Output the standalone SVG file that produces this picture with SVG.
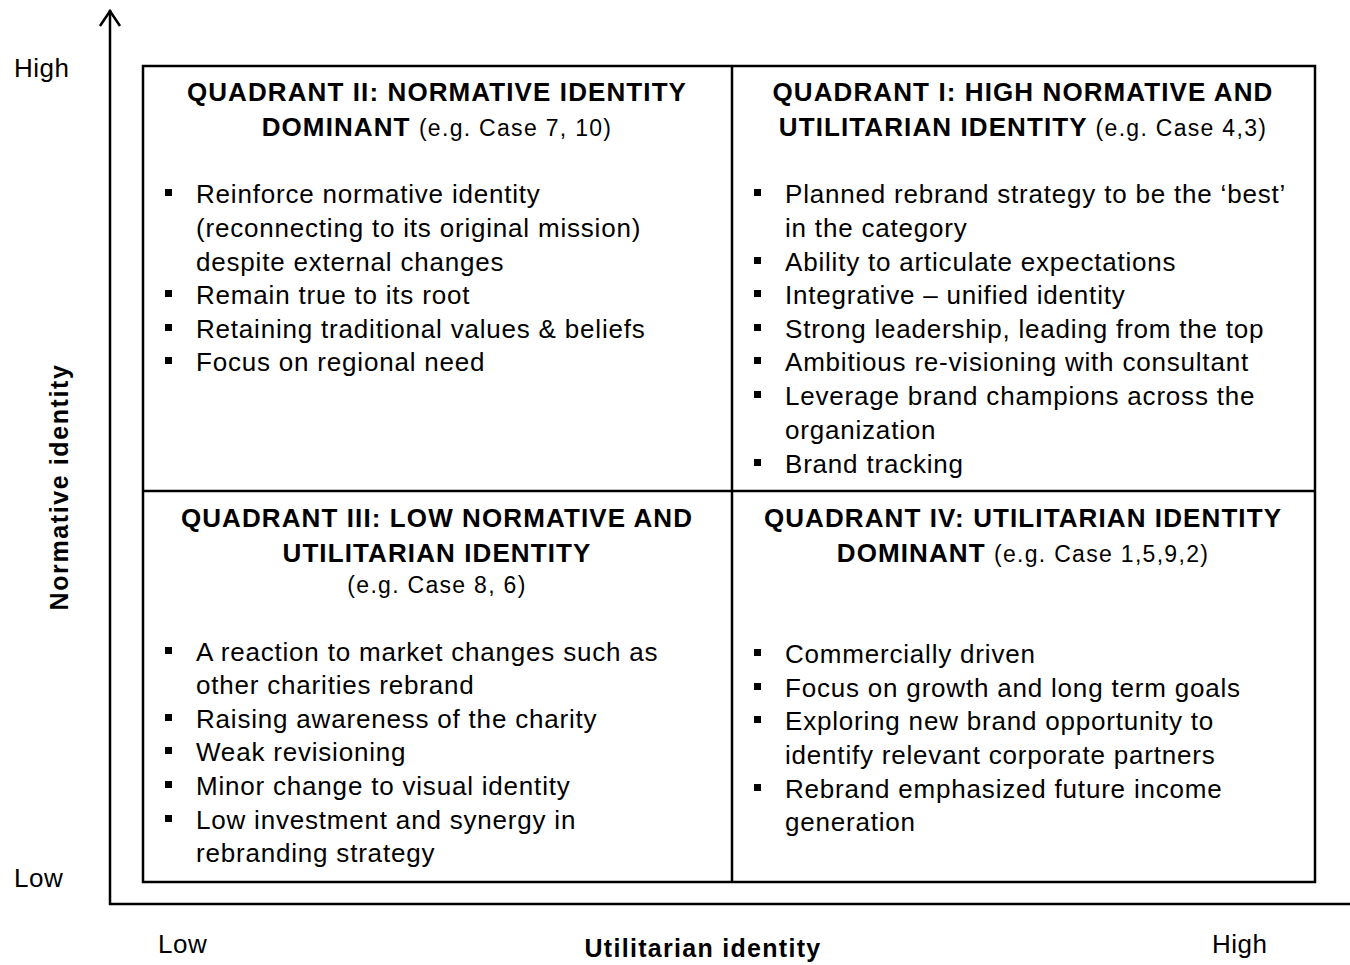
<svg xmlns="http://www.w3.org/2000/svg" width="1350" height="965" viewBox="0 0 1350 965">
<style>
text{font-family:"Liberation Sans",Arial,sans-serif;fill:#000}
.t{font-size:26px;font-weight:bold;text-anchor:middle;letter-spacing:1.1px}
.e{font-size:23px;font-weight:normal;letter-spacing:1.3px}
.b{font-size:26px;letter-spacing:0.8px}
.ax{font-size:26px;letter-spacing:0.5px}
.axb{font-size:25px;font-weight:bold;letter-spacing:1.3px}
.sq{fill:#000}
</style>
<rect width="1350" height="965" fill="#fff"/>
<g id="axes" stroke="#000" stroke-width="2.5" fill="none">
<line x1="110" y1="10" x2="110" y2="905"/>
<polyline points="100,26 110,11 120,26"/>
<line x1="109" y1="904" x2="1350" y2="904"/>
</g>
<g id="grid" stroke="#000" stroke-width="2.5" fill="none">
<rect x="143" y="66" width="1172" height="816"/>
<line x1="732" y1="66" x2="732" y2="882"/>
<line x1="143" y1="491" x2="1315" y2="491"/>
</g>
<g id="axis-labels">
<text class="ax" x="14" y="77">High</text>
<text class="ax" x="14" y="887">Low</text>
<text class="ax" x="158" y="953">Low</text>
<text class="ax" x="1212" y="953">High</text>
<text class="axb" x="703" y="957" text-anchor="middle">Utilitarian identity</text>
<text class="axb" style="letter-spacing:1.6px" transform="translate(68,487) rotate(-90)" text-anchor="middle">Normative identity</text>
</g>
<g id="q2">
<text class="t" x="437" y="101">QUADRANT II: NORMATIVE IDENTITY</text>
<text class="t" x="437" y="136">DOMINANT <tspan class="e">(e.g. Case 7, 10)</tspan></text>
<rect class="sq" x="165" y="189" width="7" height="7"/>
<text class="b" x="196" y="203">Reinforce normative identity</text>
<text class="b" x="196" y="237">(reconnecting to its original mission)</text>
<text class="b" x="196" y="271">despite external changes</text>
<rect class="sq" x="165" y="290" width="7" height="7"/>
<text class="b" x="196" y="304">Remain true to its root</text>
<rect class="sq" x="165" y="324" width="7" height="7"/>
<text class="b" x="196" y="338">Retaining traditional values &amp; beliefs</text>
<rect class="sq" x="165" y="357" width="7" height="7"/>
<text class="b" x="196" y="371">Focus on regional need</text>
</g>
<g id="q1">
<text class="t" x="1023" y="101">QUADRANT I: HIGH NORMATIVE AND</text>
<text class="t" x="1023" y="136">UTILITARIAN IDENTITY <tspan class="e">(e.g. Case 4,3)</tspan></text>
<rect class="sq" x="754" y="189" width="7" height="7"/>
<text class="b" x="785" y="203">Planned rebrand strategy to be the ‘best’</text>
<text class="b" x="785" y="237">in the category</text>
<rect class="sq" x="754" y="257" width="7" height="7"/>
<text class="b" x="785" y="271">Ability to articulate expectations</text>
<rect class="sq" x="754" y="290" width="7" height="7"/>
<text class="b" x="785" y="304">Integrative – unified identity</text>
<rect class="sq" x="754" y="324" width="7" height="7"/>
<text class="b" x="785" y="338">Strong leadership, leading from the top</text>
<rect class="sq" x="754" y="357" width="7" height="7"/>
<text class="b" x="785" y="371">Ambitious re-visioning with consultant</text>
<rect class="sq" x="754" y="391" width="7" height="7"/>
<text class="b" x="785" y="405">Leverage brand champions across the</text>
<text class="b" x="785" y="439">organization</text>
<rect class="sq" x="754" y="459" width="7" height="7"/>
<text class="b" x="785" y="473">Brand tracking</text>
</g>
<g id="q3">
<text class="t" x="437" y="527">QUADRANT III:  LOW NORMATIVE AND</text>
<text class="t" x="437" y="562">UTILITARIAN IDENTITY</text>
<text class="e" x="437" y="593" text-anchor="middle">(e.g. Case 8, 6)</text>
<rect class="sq" x="165" y="647" width="7" height="7"/>
<text class="b" x="196" y="661">A reaction to market changes such as</text>
<text class="b" x="196" y="694">other charities rebrand</text>
<rect class="sq" x="165" y="714" width="7" height="7"/>
<text class="b" x="196" y="728">Raising awareness of the charity</text>
<rect class="sq" x="165" y="747" width="7" height="7"/>
<text class="b" x="196" y="761">Weak revisioning</text>
<rect class="sq" x="165" y="781" width="7" height="7"/>
<text class="b" x="196" y="795">Minor change to  visual identity</text>
<rect class="sq" x="165" y="815" width="7" height="7"/>
<text class="b" x="196" y="829">Low investment and synergy in</text>
<text class="b" x="196" y="862">rebranding strategy</text>
</g>
<g id="q4">
<text class="t" x="1023" y="527">QUADRANT IV: UTILITARIAN IDENTITY</text>
<text class="t" x="1023" y="562">DOMINANT  <tspan class="e">(e.g. Case 1,5,9,2)</tspan></text>
<rect class="sq" x="754" y="649" width="7" height="7"/>
<text class="b" x="785" y="663">Commercially driven</text>
<rect class="sq" x="754" y="683" width="7" height="7"/>
<text class="b" x="785" y="697">Focus on growth and long term goals</text>
<rect class="sq" x="754" y="716" width="7" height="7"/>
<text class="b" x="785" y="730">Exploring new brand opportunity to</text>
<text class="b" x="785" y="764">identify relevant corporate partners</text>
<rect class="sq" x="754" y="784" width="7" height="7"/>
<text class="b" x="785" y="798">Rebrand emphasized future income</text>
<text class="b" x="785" y="831">generation</text>
</g>
</svg>
